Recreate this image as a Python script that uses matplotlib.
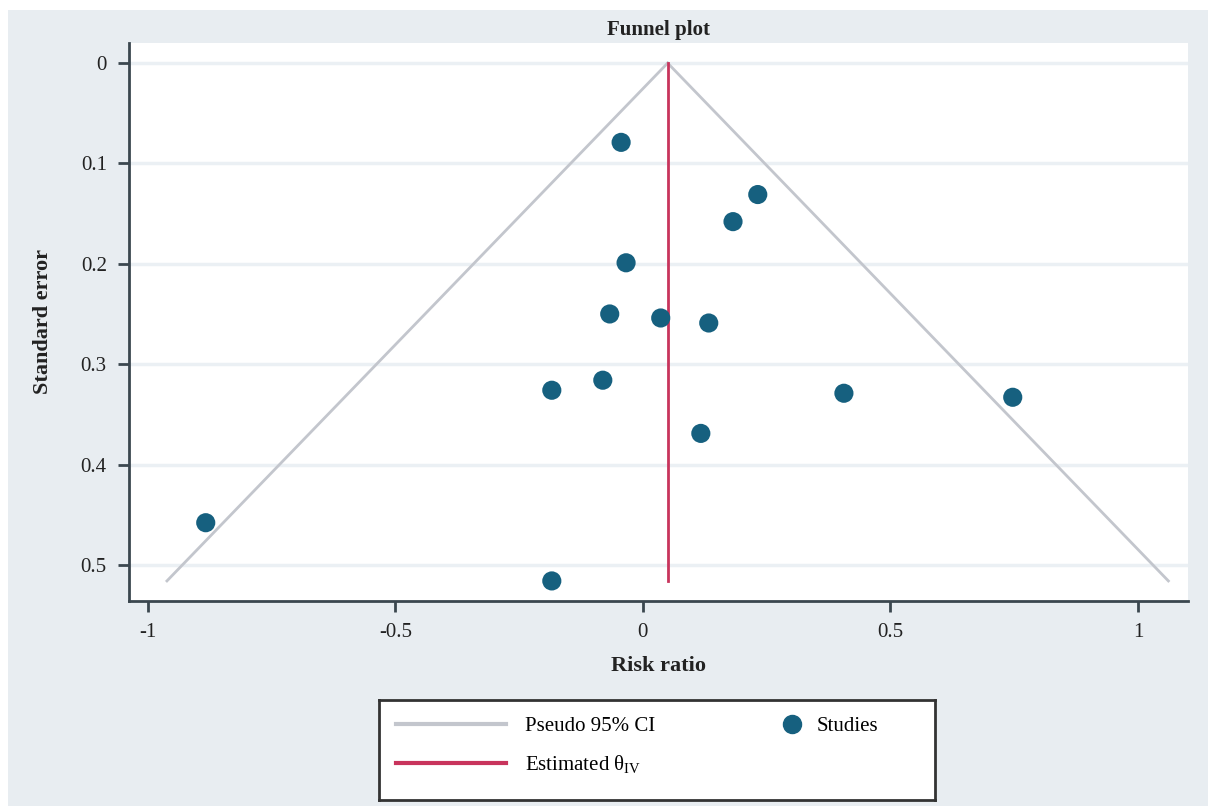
import matplotlib
matplotlib.use("Agg")
import matplotlib.pyplot as plt
from matplotlib.lines import Line2D
from matplotlib.patches import Rectangle
import numpy as np

# study estimates
risk_ratio = [-0.044, 0.232, 0.182, -0.034, -0.067, 0.036, 0.133,
              -0.081, -0.184, 0.406, 0.747, 0.117, -0.883, -0.184]
std_error = [0.079, 0.131, 0.158, 0.199, 0.250, 0.254, 0.259,
             0.316, 0.326, 0.329, 0.333, 0.369, 0.458, 0.516]
theta_iv = 0.05
se_max = 0.516
x_ticks = [-1, -0.5, 0, 0.5, 1]
x_ticklabels = ["-1", "-0.5", "0", "0.5", "1"]
y_ticks = [0, 0.1, 0.2, 0.3, 0.4, 0.5]
y_ticklabels = ["0", "0.1", "0.2", "0.3", "0.4", "0.5"]

plt.rcParams['font.family'] = ['Liberation Serif', 'DejaVu Serif']
plt.rcParams['mathtext.fontset'] = 'custom'
plt.rcParams['mathtext.rm'] = 'Liberation Serif'
plt.rcParams['mathtext.it'] = 'Liberation Serif:italic'

W, H = 1208, 806
bg = '#e8edf1'
spine_col = '#3b474f'
ci_col = '#c3c6cd'
est_col = '#c8345c'
dot_col = '#16607f'

fig = plt.figure(figsize=(W / 100, H / 100), dpi=100)
fig.patch.set_facecolor('white')
fig.add_artist(Rectangle((8 / W, 0), 1 - 8 / W, 1 - 10 / H, transform=fig.transFigure,
                         facecolor=bg, edgecolor='none', zorder=0))

ax = fig.add_axes([129 / W, 1 - 601 / H, (1188 - 129) / W, (601 - 43) / H])
ax.set_facecolor('white')

# pseudo 95% CI funnel
se_line = np.array([0, se_max])
ax.plot(theta_iv - 1.96 * se_line, se_line, color=ci_col, lw=2, zorder=2)
ax.plot(theta_iv + 1.96 * se_line, se_line, color=ci_col, lw=2, zorder=2)
ax.plot([theta_iv, theta_iv], [0, se_max], color=est_col, lw=2, zorder=3)
ax.scatter(risk_ratio, std_error, s=190, color=dot_col, edgecolors='none', zorder=4)

ax.set_xlim(-1.038, 1.101)
ax.set_ylim(0.536, -0.02)
ax.set_xticks(x_ticks)
ax.set_xticklabels(x_ticklabels)
ax.set_yticks(y_ticks)
ax.set_yticklabels(y_ticklabels)
ax.grid(axis='y', color='#ebf0f4', lw=2.5, zorder=1)
ax.set_axisbelow(True)
for s in ['top', 'right']:
    ax.spines[s].set_visible(False)
for s in ['left', 'bottom']:
    ax.spines[s].set_color(spine_col)
    ax.spines[s].set_linewidth(2)
ax.tick_params(direction='out', length=8, width=2, color=spine_col,
               labelsize=15, labelcolor='#222222', pad=8)

ax.set_title('Funnel plot', fontsize=15, fontweight='bold', color='#222222', pad=6)
ax.set_xlabel('Risk ratio', fontsize=16, fontweight='bold', color='#222222', labelpad=10)
ax.set_ylabel('Standard error', fontsize=16, fontweight='bold', color='#222222', labelpad=20)

# legend box
leg_ax = fig.add_axes([379 / W, 1 - 800 / H, (935 - 379) / W, 100 / H])
leg_ax.set_facecolor('white')
leg_ax.set_xticks([])
leg_ax.set_yticks([])
for s in leg_ax.spines.values():
    s.set_color('#333333')
    s.set_linewidth(2)

line_handles = [Line2D([], [], color=ci_col, lw=3),
                Line2D([], [], color=est_col, lw=3)]
leg1 = leg_ax.legend(line_handles, ['Pseudo 95% CI', r'Estimated θ$_{\mathrm{IV}}$'],
                     loc='upper left', bbox_to_anchor=(0.0, 1.0), frameon=False,
                     fontsize=15, handlelength=5.3, handletextpad=0.9,
                     labelspacing=0.8, borderaxespad=0.4)
leg_ax.add_artist(leg1)
dot_handle = [Line2D([], [], marker='o', ls='none', color=dot_col, markersize=13)]
leg_ax.legend(dot_handle, ['Studies'], loc='upper left', bbox_to_anchor=(0.69, 1.0),
              frameon=False, fontsize=15, handlelength=1.2, handletextpad=0.6,
              borderaxespad=0.4)

fig.savefig('out.png', dpi=100, facecolor=fig.get_facecolor())
